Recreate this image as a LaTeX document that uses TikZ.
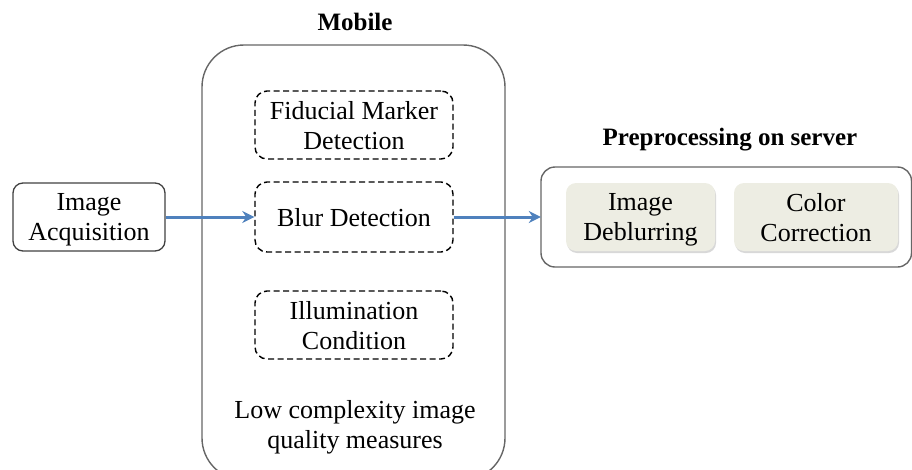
\documentclass[tikz,border=0pt]{standalone}
\usepackage{fontspec}
\setmainfont{Liberation Serif}
\usetikzlibrary{arrows.meta,shadows}
\definecolor{flowblue}{HTML}{4F81BD}
\definecolor{taskfill}{HTML}{EDEDE3}
\tikzset{
  lbl/.style={font=\fontsize{26}{30}\selectfont, align=center, text depth=0pt},
  ttl/.style={font=\fontsize{25}{30}\selectfont\bfseries, align=center},
  plainbox/.style={draw=black!75, line width=1.3pt, rounded corners=10pt, lbl, inner sep=0pt},
  dashbox/.style={draw=black, dashed, dash pattern=on 6pt off 3.5pt, line width=1.4pt, rounded corners=12pt, lbl, inner sep=0pt},
  taskbox/.style={fill=taskfill, rounded corners=10pt, lbl, inner sep=0pt,
    drop shadow={shadow xshift=1pt, shadow yshift=-2pt, fill=black!30, opacity=0.5}},
  groupbox/.style={draw=black!60, line width=1.4pt},
  flow/.style={draw=flowblue, line width=3pt, -{Stealth[length=12pt,width=12pt]}}
}
\begin{document}
\begin{tikzpicture}[x=1pt,y=-1pt]
\useasboundingbox (0,0) rectangle (912,469);
% group containers
\draw[groupbox, rounded corners=42pt] (202,45) rectangle (505,480);
\draw[groupbox, rounded corners=14pt] (541,167) rectangle (911.5,267);
\node[inner sep=0pt] (server) at (726.25,217) [minimum width=370.5pt, minimum height=100pt] {};
% titles
\node[ttl] (mobiletitle) at (355,22) {Mobile};
\node[ttl] (servertitle) at (730,140) {Preprocessing on server};
% source
\node[plainbox, minimum width=152pt, minimum height=68pt] (acq) at (89,217) {Image\\Acquisition};
% mobile checks
\node[dashbox, minimum width=198pt, minimum height=68pt] (fid) at (354,125) {Fiducial Marker\\Detection};
\node[dashbox, minimum width=198pt, minimum height=70pt] (blur) at (354,217) {Blur Detection};
\node[dashbox, minimum width=198pt, minimum height=68pt] (illum) at (354,325) {Illumination\\Condition};
\node[lbl] (lowcx) at (355,424) {Low complexity image\\quality measures};
% server tasks
\node[taskbox, minimum width=149pt, minimum height=68pt] (deblur) at (640.5,217) {Image\\Deblurring};
\node[taskbox, minimum width=164pt, minimum height=68pt] (color) at (816,217) {Color\\Correction};
% flow
\draw[flow] (acq.east) -- (blur.west);
\draw[flow] (blur.east) -- (server.west);
\end{tikzpicture}
\end{document}
